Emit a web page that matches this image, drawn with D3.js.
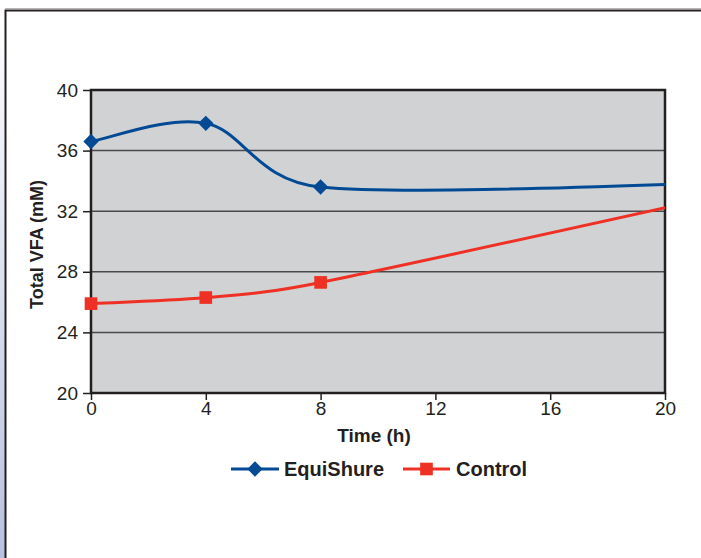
<!DOCTYPE html>
<html>
<head>
<meta charset="utf-8">
<script src="https://cdn.jsdelivr.net/npm/d3@7"></script>
<style>
  body { margin: 0; background: #fff; }
  text { font-family: "Liberation Sans", Arial, sans-serif; fill: #231f20; }
</style>
</head>
<body>
<svg id="chart" width="701" height="558"></svg>
<script>
// values (hours, mM); last point lies past the 20 h edge
const hours = [0, 4, 8, 24];
const equiShure = [36.6, 37.8, 33.6, 34.0];
const control = [25.9, 26.3, 27.3, 33.9];
const xTicks = [0, 4, 8, 12, 16, 20];
const yTicks = [20, 24, 28, 32, 36, 40];

// spreadsheet-style smoothed line: bezier arms of 1/6 the neighbour span,
// capped at half the segment length
function SmoothCurve(context) { this._context = context; }
SmoothCurve.prototype = {
  areaStart() {}, areaEnd() {},
  lineStart() { this._pts = []; },
  point(x, y) { this._pts.push([+x, +y]); },
  lineEnd() {
    const p = this._pts, c = this._context;
    if (!p.length) return;
    const dist = (a, b) => Math.hypot(b[0] - a[0], b[1] - a[1]);
    c.moveTo(p[0][0], p[0][1]);
    for (let i = 0; i < p.length - 1; i++) {
      const p0 = p[Math.max(i - 1, 0)], p1 = p[i], p2 = p[i + 1], p3 = p[Math.min(i + 2, p.length - 1)];
      const half = dist(p1, p2) / 2;
      const d02 = dist(p0, p2), d13 = dist(p1, p3);
      const f0 = d02 / 6 >= half ? half / d02 : 1 / 6;
      const f1 = d13 / 6 >= half ? half / d13 : 1 / 6;
      c.bezierCurveTo(
        p1[0] + (p2[0] - p0[0]) * f0, p1[1] + (p2[1] - p0[1]) * f0,
        p2[0] - (p3[0] - p1[0]) * f1, p2[1] - (p3[1] - p1[1]) * f1,
        p2[0], p2[1]);
    }
  }
};
const curveSmooth = context => new SmoothCurve(context);

const svg = d3.select("#chart");
const margin = { top: 90, right: 36, bottom: 165, left: 91 };
const width = +svg.attr("width") - margin.left - margin.right;
const height = +svg.attr("height") - margin.top - margin.bottom;

// page frame: left strip with a soft blue fade, dark border top and left
const defs = svg.append("defs");
const grad = defs.append("linearGradient").attr("id", "fade").attr("x1", 0).attr("y1", 0).attr("x2", 0).attr("y2", 1);
grad.append("stop").attr("offset", "0%").attr("stop-color", "#ffffff");
grad.append("stop").attr("offset", "100%").attr("stop-color", "#b8c1df");
svg.append("rect").attr("x", 0).attr("y", 10).attr("width", 5).attr("height", 548).attr("fill", "url(#fade)");
svg.append("line").attr("x1", 5).attr("x2", 701).attr("y1", 8.5).attr("y2", 8.5).attr("stroke", "#b5b5b5").attr("stroke-width", 1);
svg.append("path").attr("d", "M5.5,558V10.5H701").attr("fill", "none").attr("stroke", "#231f20").attr("stroke-width", 2);

const g = svg.append("g").attr("transform", "translate(" + margin.left + "," + margin.top + ")");

const x = d3.scaleLinear().domain([0, 20]).range([0, width]);
const y = d3.scaleLinear().domain([20, 40]).range([height, 0]);

defs.append("clipPath").attr("id", "plot").append("rect").attr("width", width).attr("height", height);

// plot background
g.append("rect").attr("width", width).attr("height", height).attr("fill", "#d1d2d4");

// gridlines
g.selectAll(".grid")
  .data(yTicks.slice(1, -1))
  .enter()
  .append("line")
  .attr("x1", 0).attr("x2", width)
  .attr("y1", d => y(d)).attr("y2", d => y(d))
  .attr("stroke", "#4a4a4c").attr("stroke-width", 1.5);

// axes
const yAxis = g.append("g").call(d3.axisLeft(y).tickValues(yTicks).tickSize(8).tickPadding(5));
const xAxis = g.append("g").attr("transform", "translate(0," + height + ")")
  .call(d3.axisBottom(x).tickValues(xTicks).tickSize(7).tickPadding(2));
[xAxis, yAxis].forEach(a => {
  a.select(".domain").remove();
  a.selectAll("line").attr("stroke", "#231f20").attr("stroke-width", 1.5);
  a.selectAll("text").style("font-size", "19px").attr("fill", "#231f20");
});

// plot border
g.append("rect").attr("width", width).attr("height", height)
  .attr("fill", "none").attr("stroke", "#231f20").attr("stroke-width", 2.5);

// lines
const line = d3.line()
  .x((d, i) => x(hours[i]))
  .y(d => y(d))
  .curve(curveSmooth);

const series = [
  { name: "EquiShure", values: equiShure, color: "#034a94", shape: d3.symbolDiamond2, size: 150 },
  { name: "Control", values: control, color: "#ee3124", shape: d3.symbolSquare, size: 160 }
];

const plot = g.append("g").attr("clip-path", "url(#plot)");
series.forEach(s => {
  plot.append("path")
    .attr("d", line(s.values))
    .attr("fill", "none")
    .attr("stroke", s.color)
    .attr("stroke-width", 3);
});

// markers (only the points inside the time range)
series.forEach(s => {
  g.selectAll(".m-" + s.name)
    .data(s.values.filter((d, i) => hours[i] <= 20))
    .enter()
    .append("path")
    .attr("d", d3.symbol().type(s.shape).size(s.size))
    .attr("transform", (d, i) => "translate(" + x(hours[i]) + "," + y(d) + ")")
    .attr("fill", s.color);
});

// axis titles
g.append("text")
  .attr("x", width / 2 - 4).attr("y", height + 49)
  .attr("text-anchor", "middle")
  .style("font-size", "19px").style("font-weight", "bold")
  .text("Time (h)");

g.append("text")
  .attr("transform", "translate(" + (-48) + "," + (height / 2 + 3) + ") rotate(-90)")
  .attr("text-anchor", "middle")
  .style("font-size", "18px").style("font-weight", "bold")
  .text("Total VFA (mM)");

// legend
const legend = svg.append("g").attr("transform", "translate(0,469)");
const legendPos = [{ x1: 231, x2: 279, tx: 284 }, { x1: 403, x2: 450, tx: 456 }];
series.forEach((s, i) => {
  const p = legendPos[i];
  legend.append("line").attr("x1", p.x1).attr("x2", p.x2).attr("stroke", s.color).attr("stroke-width", 3);
  legend.append("path").attr("d", d3.symbol().type(s.shape).size(s.size))
    .attr("transform", "translate(" + (p.x1 + p.x2) / 2 + ",0)").attr("fill", s.color);
  legend.append("text").attr("x", p.tx).attr("y", 7)
    .style("font-size", "20px").style("font-weight", "bold")
    .text(s.name);
});
</script>
</body>
</html>
